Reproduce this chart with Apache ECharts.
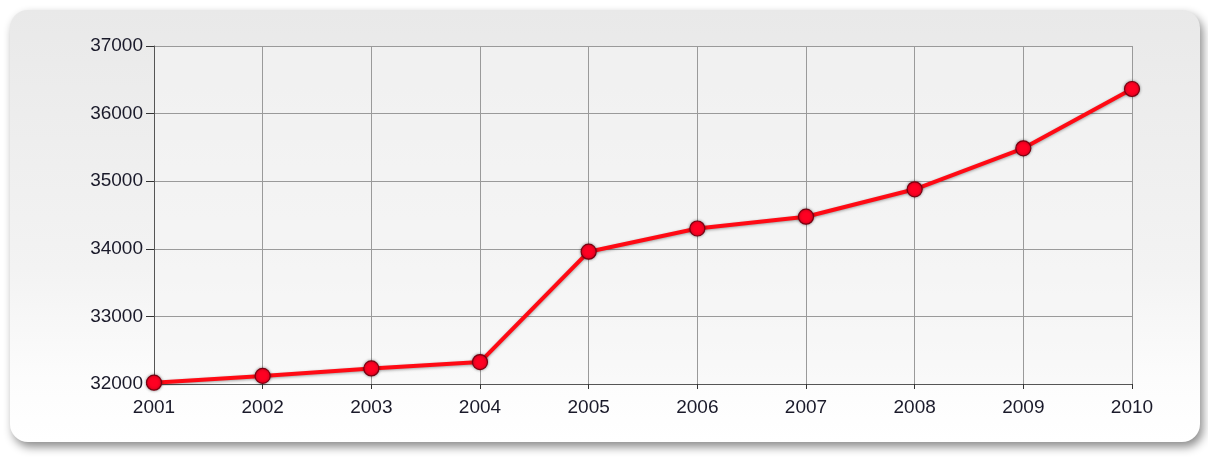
<!DOCTYPE html>
<html><head><meta charset="utf-8">
<script src="https://cdn.jsdelivr.net/npm/echarts@6/dist/echarts.min.js"></script>
<style>html,body{margin:0;padding:0;background:#fff;}#c{width:1208px;height:461px;}</style>
</head><body><div id="c"></div>
<script>
const years = ['2001','2002','2003','2004','2005','2006','2007','2008','2009','2010'];
const population = [32020, 32120, 32230, 32325, 33957, 34300, 34475, 34880, 35487, 36364];
const yTicks = [32000, 33000, 34000, 35000, 36000, 37000];

const chart = echarts.init(document.getElementById('c'), null, {renderer:'canvas'});
chart.setOption({
  animation:false,
  graphic:[{
    type:'rect', z:-10,
    shape:{x:10,y:10,width:1190,height:432,r:18},
    style:{
      fill:new echarts.graphic.LinearGradient(0,0,0,1,[{offset:0,color:'#e9e9e9'},{offset:0.6,color:'#f3f3f3'},{offset:0.85,color:'#fcfcfc'},{offset:1,color:'#ffffff'}]),
      shadowBlur:10, shadowOffsetX:3, shadowOffsetY:5, shadowColor:'rgba(0,0,0,0.45)'
    }
  }],
  grid:{left:154,right:76,top:46,bottom:77,show:true,backgroundColor:'rgba(245,245,245,0.55)',borderWidth:0},
  xAxis:{
    type:'category', data:years, boundaryGap:false,
    axisLine:{show:true,lineStyle:{color:'#555',width:1}},
    axisTick:{show:true,length:5,lineStyle:{color:'#333'}},
    axisLabel:{color:'#1a1a2a',fontFamily:'Liberation Sans, Arial',fontSize:19,margin:14},
    splitLine:{show:true,lineStyle:{color:'#9a9a9a',width:1}}
  },
  yAxis:{
    type:'value', min:yTicks[0], max:yTicks[yTicks.length-1], interval:1000,
    axisLine:{show:true,lineStyle:{color:'#555',width:1}},
    axisTick:{show:true,length:8,lineStyle:{color:'#333'}},
    axisLabel:{color:'#1a1a2a',fontFamily:'Liberation Sans, Arial',fontSize:19,margin:11,formatter:v=>String(v)},
    splitLine:{show:true,lineStyle:{color:'#9a9a9a',width:1}}
  },
  series:[{
    type:'line', data:population,
    symbol:'circle', symbolSize:15,
    lineStyle:{color:'#ff0a14',width:4,shadowBlur:3,shadowColor:'rgba(0,0,0,0.35)',shadowOffsetY:1},
    itemStyle:{color:'#ff0022',borderColor:'#7a0010',borderWidth:1.2,shadowBlur:3,shadowColor:'rgba(0,0,0,0.4)'},
    z:5
  }]
});
</script></body></html>
